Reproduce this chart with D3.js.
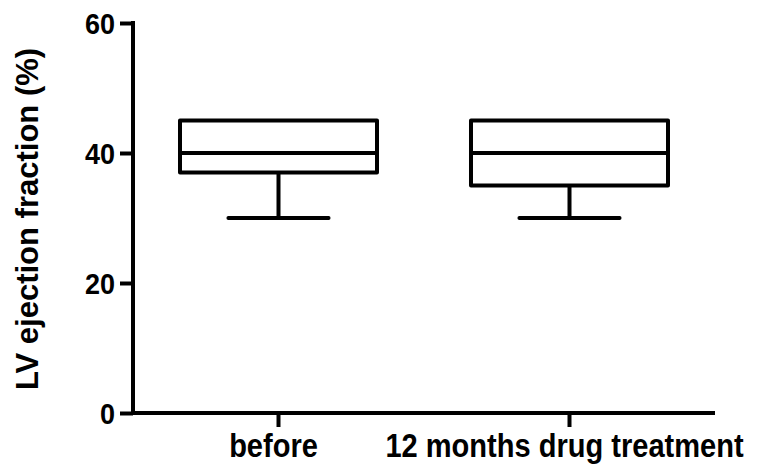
<!DOCTYPE html>
<html>
<head>
<meta charset="utf-8">
<script src="https://cdn.jsdelivr.net/npm/d3@7/dist/d3.min.js"></script>
<style>
  html, body { margin: 0; padding: 0; background: #fff; }
  svg { display: block; }
  text { font-family: "Liberation Sans", Arial, Helvetica, sans-serif; font-weight: bold; fill: #000; }
</style>
</head>
<body>
<svg id="chart" width="758" height="468"></svg>
<script>
// Groups and their five-number summaries (LV ejection fraction, %)
const categories = ["before", "12 months drug treatment"];
const minValues    = [30, 30];
const q1Values     = [37, 35];
const medianValues = [40, 40];
const q3Values     = [45, 45];
const maxValues    = [45, 45];
const yTicks = [0, 20, 40, 60];
const yLabel = "LV ejection fraction (%)";

const svg = d3.select("#chart");
const stroke = 4;

const x = d3.scaleBand().domain(categories).range([133, 715]).paddingInner(0).paddingOuter(0);
const y = d3.scaleLinear().domain([0, 60]).range([413, 23]);

const boxes = categories.map((c, i) => ({
  cat: c, min: minValues[i], q1: q1Values[i], med: medianValues[i], q3: q3Values[i], max: maxValues[i]
}));

const boxW = x.bandwidth() * 0.677;
const capW = x.bandwidth() * 0.344;

const g = svg.append("g");

boxes.forEach(d => {
  const cx = x(d.cat) + x.bandwidth() / 2;
  const grp = g.append("g")
    .attr("fill", "none").attr("stroke", "#000")
    .attr("stroke-width", stroke).attr("stroke-linejoin", "round").attr("stroke-linecap", "round");
  // lower whisker and cap
  grp.append("line").attr("x1", cx).attr("x2", cx).attr("y1", y(d.q1)).attr("y2", y(d.min));
  grp.append("line").attr("x1", cx - capW / 2).attr("x2", cx + capW / 2).attr("y1", y(d.min)).attr("y2", y(d.min));
  // upper whisker and cap
  if (d.max > d.q3) {
    grp.append("line").attr("x1", cx).attr("x2", cx).attr("y1", y(d.q3)).attr("y2", y(d.max));
    grp.append("line").attr("x1", cx - capW / 2).attr("x2", cx + capW / 2).attr("y1", y(d.max)).attr("y2", y(d.max));
  }
  // box
  grp.append("rect").attr("x", cx - boxW / 2).attr("width", boxW)
    .attr("y", y(d.q3)).attr("height", y(d.q1) - y(d.q3)).attr("fill", "#fff");
  // median
  grp.append("line").attr("x1", cx - boxW / 2).attr("x2", cx + boxW / 2).attr("y1", y(d.med)).attr("y2", y(d.med));
});

// y axis
const yScaleX = 0.9;
const yAxis = svg.append("g").attr("transform", "translate(133,0)")
  .call(d3.axisLeft(y).tickValues(yTicks).tickSize(13).tickSizeOuter(0).tickPadding(5));
yAxis.select(".domain").attr("stroke-width", stroke).attr("d", `M0,${y(60) - 2}V${y(0) + 2}`);
yAxis.selectAll(".tick line").attr("stroke-width", stroke);
yAxis.selectAll(".tick text")
  .style("font-size", "30px")
  .attr("x", -18 / yScaleX)
  .attr("dy", "0.36em")
  .attr("transform", `scale(${yScaleX},1)`);

// x axis
const xScaleX = 0.88;
const xAxis = svg.append("g").attr("transform", "translate(0,413)")
  .call(d3.axisBottom(x).tickSize(14).tickSizeOuter(0));
xAxis.select(".domain").attr("stroke-width", stroke).attr("d", `M131,0H715`);
xAxis.selectAll(".tick line").attr("stroke-width", stroke);
xAxis.selectAll(".tick text")
  .style("font-size", "33px")
  .attr("x", -5 / xScaleX)
  .attr("y", 44)
  .attr("dy", null)
  .attr("transform", `scale(${xScaleX},1)`);

// y axis title
svg.append("text")
  .attr("transform", `translate(38,219) rotate(-90)`)
  .attr("text-anchor", "middle")
  .style("font-size", "31px")
  .text(yLabel);
</script>
</body>
</html>
